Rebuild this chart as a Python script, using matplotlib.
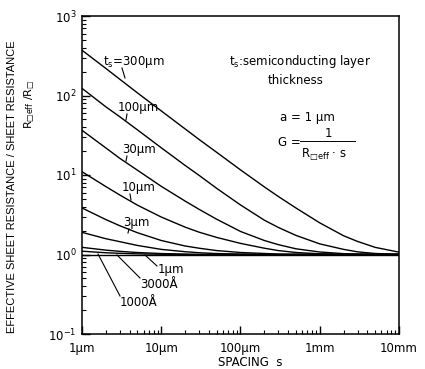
import matplotlib
matplotlib.use("Agg")
import matplotlib.pyplot as plt
from matplotlib.lines import Line2D
from matplotlib.ticker import LogLocator, NullFormatter, FixedLocator, FixedFormatter

plt.rcParams['font.family'] = ['DejaVu Sans']
plt.rcParams['mathtext.fontset'] = 'dejavusans'
plt.rcParams['mathtext.default'] = 'regular'

# ---- data (spacing in micrometres, ratio R_eff/R) ----
spacing_um = [1, 2, 3, 5, 10, 20, 30, 50, 100, 200, 300, 500, 1000, 2000, 3000, 5000, 10000]
r_300um = [371, 219, 160, 108, 64, 38, 28, 19.3, 11.6, 7.08, 5.37, 3.85, 2.5, 1.72, 1.46, 1.23, 1.07]
r_100um = [123, 72, 54, 37, 22, 13.2, 9.9, 6.8, 4.2, 2.7, 2.19, 1.74, 1.36, 1.16, 1.08, 1.03, 1.005]
r_30um = [36.5, 21.9, 16.2, 11.5, 7.2, 4.7, 3.7, 2.78, 1.95, 1.5, 1.33, 1.18, 1.075, 1.025, 1.012, 1.005, 1.0]
r_10um = [11.0, 7.15, 5.6, 4.18, 2.96, 2.21, 1.91, 1.64, 1.38, 1.2, 1.12, 1.06, 1.02, 1.005, 1.0, 1.0, 1.0]
r_3um = [3.85, 2.75, 2.3, 1.88, 1.5, 1.28, 1.2, 1.12, 1.06, 1.03, 1.012, 1.005, 1.0, 1.0, 1.0, 1.0, 1.0]
r_1um = [1.9, 1.58, 1.45, 1.30, 1.16, 1.084, 1.052, 1.028, 1.012, 1.0, 1.0, 1.0, 1.0, 1.0, 1.0, 1.0, 1.0]
r_3000A = [1.23, 1.135, 1.096, 1.059, 1.028, 1.012, 1.0, 1.0, 1.0, 1.0, 1.0, 1.0, 1.0, 1.0, 1.0, 1.0, 1.0]
r_1000A = [1.1, 1.052, 1.035, 1.019, 1.007, 1.0, 1.0, 1.0, 1.0, 1.0, 1.0, 1.0, 1.0, 1.0, 1.0, 1.0, 1.0]
series = [r_300um, r_100um, r_30um, r_10um, r_3um, r_1um, r_3000A, r_1000A]

x_tick_vals = [1, 10, 100, 1000, 10000]
x_tick_labels = ['1µm', '10µm', '100µm', '1mm', '10mm']

W, H = 425, 369
fig = plt.figure(figsize=(W / 100, H / 100), dpi=100)
L, R, T, B = 82, 399, 16, 334
ax = fig.add_axes([L / W, 1 - B / H, (R - L) / W, (B - T) / H])

for ys in series:
    ax.plot(spacing_um, ys, color='black', lw=1.0)
ax.axhline(1.0, color='black', lw=1.0)

ax.set_xscale('log')
ax.set_yscale('log')
ax.set_xlim(1, 10000)
ax.set_ylim(0.1, 1000)

ax.xaxis.set_major_locator(FixedLocator(x_tick_vals))
ax.xaxis.set_major_formatter(FixedFormatter(x_tick_labels))
ax.xaxis.set_minor_locator(LogLocator(base=10, subs=range(2, 10)))
ax.xaxis.set_minor_formatter(NullFormatter())
ax.yaxis.set_major_locator(LogLocator(base=10, numticks=10))
ax.yaxis.set_minor_locator(LogLocator(base=10, subs=range(2, 10), numticks=10))
ax.yaxis.set_minor_formatter(NullFormatter())

ax.tick_params(which='both', direction='in', top=False, right=False, labelsize=8.5)
ax.tick_params(which='major', length=6, width=1.0)
ax.tick_params(which='minor', length=3, width=0.8)
ax.tick_params(axis='x', pad=6)
ax.tick_params(axis='y', pad=4)
for sp in ax.spines.values():
    sp.set_linewidth(1.1)

def ftxt(px, py, s, **kw):
    kw.setdefault('fontsize', 8.5)
    return fig.text(px / W, 1 - py / H, s, **kw)

def fline(x0, y0, x1, y1, lw=0.8):
    fig.add_artist(Line2D([x0 / W, x1 / W], [1 - y0 / H, 1 - y1 / H], color='black', lw=lw))

# curve labels
ftxt(103, 62, 't$_{s}$=300µm', ha='left', va='center')
fline(122, 68, 125, 78)
ftxt(118, 108, '100µm', ha='left', va='center')
fline(127, 114, 126, 120)
ftxt(122, 150, '30µm', ha='left', va='center')
fline(127, 156, 126, 161)
ftxt(122, 188, '10µm', ha='left', va='center')
fline(130, 194, 131, 200)
ftxt(123, 223, '3µm', ha='left', va='center')
fline(129, 229, 128, 233)
ftxt(158, 269, '1µm', ha='left', va='center')
fline(157, 266, 145, 255)
ftxt(140, 285, '3000Å', ha='left', va='center')
fline(140, 278, 117, 255)
ftxt(120, 303, '1000Å', ha='left', va='center')
fline(120, 296, 98, 254)

# annotation block
ftxt(300, 62, 't$_{s}$:semiconducting layer', ha='center', va='center')
ftxt(296, 80, 'thickness', ha='center', va='center')
ftxt(307, 117, 'a = 1 µm', ha='center', va='center')
ftxt(278, 143, 'G =', ha='left', va='center')
ftxt(328, 133, '1', ha='center', va='center')
fline(300, 141, 355, 141, lw=0.7)
ftxt(324, 154, 'R$_{□eff}$ · s', ha='center', va='center')

# axis titles
fig.text(12 / W, 1 - 187 / H, 'EFFECTIVE SHEET RESISTANCE / SHEET RESISTANCE', rotation=90,
         ha='center', va='center', fontsize=8, family='Liberation Sans')
ftxt(30, 104, 'R$_{□eff}$ /R$_{□}$', rotation=90, ha='center', va='center', fontsize=8)
ftxt(250, 362, 'SPACING  s', ha='center', va='center')

fig.savefig('out.png', dpi=100)
